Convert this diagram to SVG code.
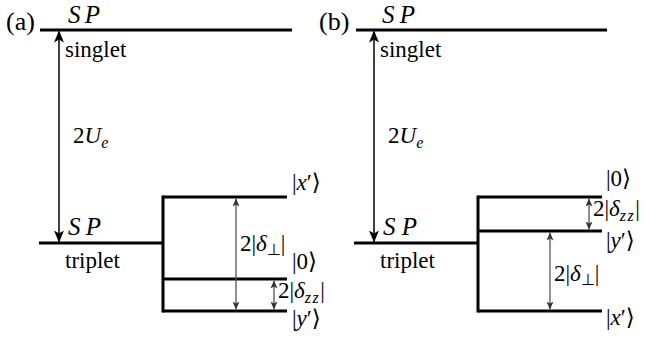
<svg xmlns="http://www.w3.org/2000/svg" width="645" height="340" viewBox="0 0 645 340">
<style>
text{font-family:"Liberation Serif","Times New Roman",serif;font-size:23px;fill:#000}
.it{font-style:italic}
.sp{font-style:italic;font-size:25px}
.pl{font-size:26px}
.br{font-family:"DejaVu Serif","DejaVu Sans",serif;font-weight:normal}
.lvl{stroke:#000;stroke-width:3;fill:none}
.main{stroke:#000;stroke-width:1.5;fill:none}
.gap{stroke:#555;stroke-width:1.3;fill:none}
.sub{font-size:16px}
</style>
<defs>
<marker id="ah" markerUnits="userSpaceOnUse" markerWidth="12" markerHeight="10" refX="11" refY="5" orient="auto-start-reverse" viewBox="0 0 12 10">
<path d="M0,0 L12,5 L0,10 L3,5 z" fill="#000"/>
</marker>
<marker id="ahs" markerUnits="userSpaceOnUse" markerWidth="8" markerHeight="7" refX="8" refY="3.5" orient="auto-start-reverse" viewBox="0 0 8 7">
<path d="M0,0 L8,3.5 L0,7 L2,3.5 z" fill="#333"/>
</marker>
</defs>
<rect width="645" height="340" fill="#fff"/>

<!-- Panel (a) -->
<g id="a-label"><text class="pl" x="6" y="30">(a)</text></g>
<g id="a-singlet">
<line class="lvl" x1="40" y1="30" x2="292" y2="30"/>
<text class="sp" x="68" y="23" textLength="32" lengthAdjust="spacing">SP</text>
<text x="65" y="57">singlet</text>
</g>
<g id="a-triplet">
<line class="lvl" x1="39" y1="243" x2="163" y2="243"/>
<line class="lvl" x1="163" y1="195.5" x2="163" y2="312.5"/>
<text class="sp" x="68" y="235" textLength="33" lengthAdjust="spacing">SP</text>
<text x="65" y="268">triplet</text>
</g>
<g id="a-x">
<line class="lvl" x1="163" y1="197" x2="287" y2="197"/>
<text x="292" y="190">|<tspan class="it">x</tspan>′<tspan class="br">⟩</tspan></text>
</g>
<g id="a-0">
<line class="lvl" x1="163" y1="279" x2="287" y2="279"/>
<text x="292" y="269">|0<tspan class="br">⟩</tspan></text>
</g>
<g id="a-y">
<line class="lvl" x1="163" y1="311" x2="287" y2="311"/>
<text x="292" y="326">|<tspan class="it">y</tspan>′<tspan class="br">⟩</tspan></text>
</g>
<g id="a-labels">
<text x="73" y="143">2<tspan class="it">U</tspan><tspan class="it sub" dy="5">e</tspan></text>
<text x="240" y="251">2|<tspan class="it">δ</tspan><tspan class="sub" dy="4">⊥</tspan><tspan dy="-4">|</tspan></text>
<text x="278" y="298">2|<tspan class="it">δ</tspan><tspan class="it sub" dy="5" letter-spacing="1.5">zz</tspan><tspan dy="-5">|</tspan></text>
</g>

<!-- Panel (b) -->
<g id="b-label"><text class="pl" x="319" y="30">(b)</text></g>
<g id="b-singlet">
<line class="lvl" x1="356" y1="30" x2="607" y2="30"/>
<text class="sp" x="382" y="23" textLength="33" lengthAdjust="spacing">SP</text>
<text x="380" y="57">singlet</text>
</g>
<g id="b-triplet">
<line class="lvl" x1="354" y1="243" x2="478" y2="243"/>
<line class="lvl" x1="478" y1="195.5" x2="478" y2="312.5"/>
<text class="sp" x="383" y="235" textLength="34" lengthAdjust="spacing">SP</text>
<text x="380" y="268">triplet</text>
</g>
<g id="b-0">
<line class="lvl" x1="478" y1="197" x2="602" y2="197"/>
<text x="606" y="186">|0<tspan class="br">⟩</tspan></text>
</g>
<g id="b-y">
<line class="lvl" x1="478" y1="231" x2="602" y2="231"/>
<text x="606" y="248">|<tspan class="it">y</tspan>′<tspan class="br">⟩</tspan></text>
</g>
<g id="b-x">
<line class="lvl" x1="478" y1="311" x2="602" y2="311"/>
<text x="606" y="325">|<tspan class="it">x</tspan>′<tspan class="br">⟩</tspan></text>
</g>
<g id="b-labels">
<text x="388" y="143">2<tspan class="it">U</tspan><tspan class="it sub" dy="5">e</tspan></text>
<text x="554" y="281">2|<tspan class="it">δ</tspan><tspan class="sub" dy="4">⊥</tspan><tspan dy="-4">|</tspan></text>
<text x="593" y="216">2|<tspan class="it">δ</tspan><tspan class="it sub" dy="5" letter-spacing="1.5">zz</tspan><tspan dy="-5">|</tspan></text>
</g>

<!-- Connectors -->
<g id="connectors">
<line class="main" x1="59" y1="31.5" x2="59" y2="241.5" marker-start="url(#ah)" marker-end="url(#ah)"/>
<line class="gap" x1="236" y1="198.5" x2="236" y2="309.5" marker-start="url(#ahs)" marker-end="url(#ahs)"/>
<line class="gap" x1="274" y1="280.5" x2="274" y2="309.5" marker-start="url(#ahs)" marker-end="url(#ahs)"/>
<line class="main" x1="374" y1="31.5" x2="374" y2="241.5" marker-start="url(#ah)" marker-end="url(#ah)"/>
<line class="gap" x1="589" y1="198.5" x2="589" y2="229.5" marker-start="url(#ahs)" marker-end="url(#ahs)"/>
<line class="gap" x1="550" y1="232.5" x2="550" y2="309.5" marker-start="url(#ahs)" marker-end="url(#ahs)"/>
</g>
</svg>
